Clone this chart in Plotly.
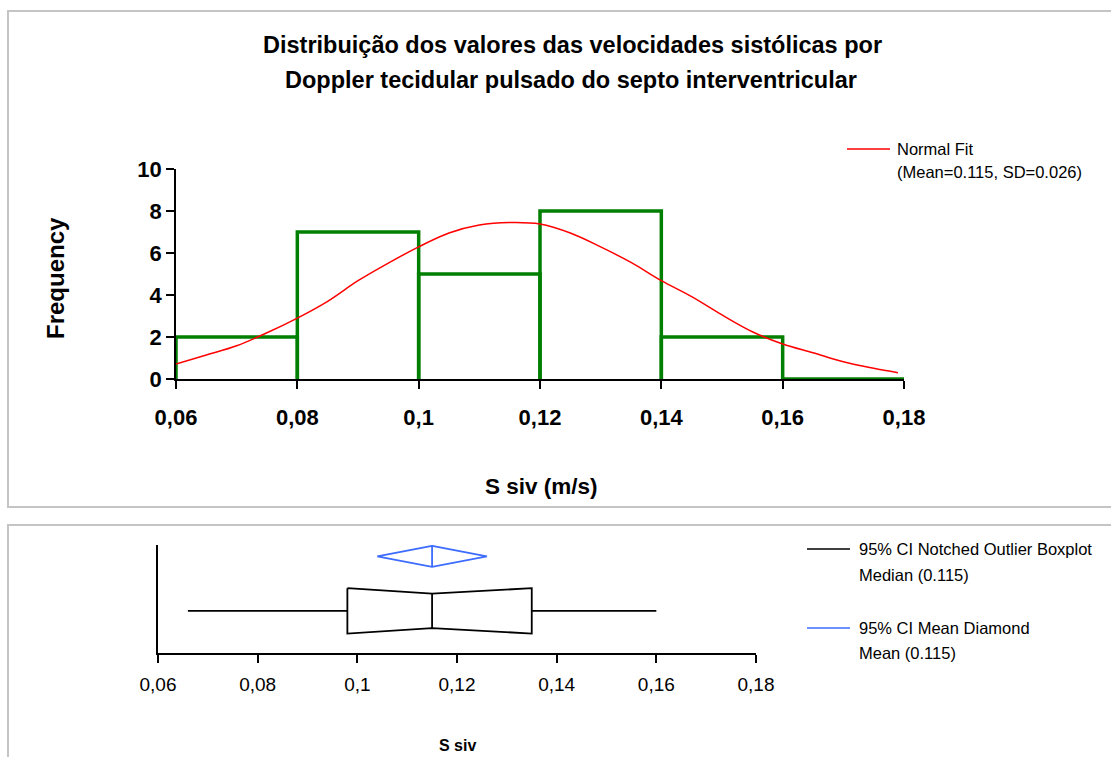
import plotly.graph_objects as go

# Histogram of S siv (m/s)
bin_edges = [0.06, 0.08, 0.10, 0.12, 0.14, 0.16, 0.18]
bin_counts = [2, 7, 5, 8, 2, 0]

# Normal fit curve (Mean=0.115, SD=0.026)
fit_x = [0.060, 0.065, 0.070, 0.075, 0.080, 0.085, 0.090, 0.095, 0.100, 0.105,
         0.110, 0.115, 0.120, 0.125, 0.130, 0.135, 0.140, 0.145, 0.150, 0.155,
         0.160, 0.165, 0.170, 0.175, 0.179]
fit_y = [0.71, 1.14, 1.58, 2.20, 2.90, 3.70, 4.68, 5.52, 6.29, 6.95,
         7.33, 7.45, 7.38, 6.95, 6.29, 5.55, 4.68, 3.92, 3.05, 2.25,
         1.67, 1.25, 0.82, 0.51, 0.30]

# Boxplot summary
whisker_low = 0.066
q1 = 0.098
median = 0.115
q3 = 0.135
whisker_high = 0.160
mean = 0.115
mean_ci = [0.104, 0.126]

x_ticks = [0.06, 0.08, 0.10, 0.12, 0.14, 0.16, 0.18]
x_ticktext = ["0,06", "0,08", "0,1", "0,12", "0,14", "0,16", "0,18"]
y_ticks = [0, 2, 4, 6, 8, 10]

W, H = 1111, 757
FONT = "Liberation Sans, Arial, sans-serif"
GREEN = "#007f00"
BLUE = "#3d6cff"
BORDER = "#c4c4c4"


def px(x):
    return x / W


def py(y):
    return 1 - y / H


fig = go.Figure()

# Histogram outlines
hx, hy = [], []
for i, c in enumerate(bin_counts):
    hx += [bin_edges[i], bin_edges[i], bin_edges[i + 1], bin_edges[i + 1], None]
    hy += [0, c, c, 0, None]
fig.add_trace(go.Scatter(x=hx, y=hy, mode="lines", line=dict(color=GREEN, width=3.5),
                         cliponaxis=False, showlegend=False, hoverinfo="skip"))

# Normal fit
fig.add_trace(go.Scatter(x=fit_x, y=fit_y, mode="lines",
                         line=dict(color="red", width=1.5, shape="spline"),
                         showlegend=False, hoverinfo="skip"))

# Notched box on second axes (box centre at y=0.39)
bc, bh, nh = 0.39, 0.21, 0.16
box_x = [q1, median, q3, q3, median, q1, q1]
box_y = [bc + bh, bc + nh, bc + bh, bc - bh, bc - nh, bc - bh, bc + bh]
fig.add_trace(go.Scatter(x=box_x, y=box_y, mode="lines", line=dict(color="black", width=1.8),
                         xaxis="x2", yaxis="y2", showlegend=False, hoverinfo="skip"))
fig.add_trace(go.Scatter(x=[median, median, None, whisker_low, q1, None, q3, whisker_high],
                         y=[bc - nh, bc + nh, None, bc, bc, None, bc, bc],
                         mode="lines", line=dict(color="black", width=1.8),
                         xaxis="x2", yaxis="y2", showlegend=False, hoverinfo="skip"))

# Mean diamond
dc, dh = 0.895, 0.097
fig.add_trace(go.Scatter(x=[mean_ci[0], mean, mean_ci[1], mean, mean_ci[0], None, mean, mean],
                         y=[dc, dc + dh, dc, dc - dh, dc, None, dc - dh, dc + dh],
                         mode="lines", line=dict(color=BLUE, width=1.8),
                         xaxis="x2", yaxis="y2", showlegend=False, hoverinfo="skip"))

axis_common = dict(showline=True, linecolor="black", linewidth=1.5, ticks="outside",
                   tickcolor="black", tickwidth=1.5, showgrid=False, zeroline=False,
                   automargin=False)

fig.update_layout(
    width=W, height=H,
    margin=dict(l=0, r=0, t=0, b=0, pad=0, autoexpand=False),
    paper_bgcolor="white", plot_bgcolor="rgba(0,0,0,0)",
    showlegend=False,
    font=dict(family=FONT, color="black"),
    xaxis=dict(domain=[px(176), px(904)], range=[0.06, 0.18], tickvals=x_ticks,
               ticktext=x_ticktext, ticklen=8, anchor="y", ticklabelstandoff=10,
               tickfont=dict(size=22, family=FONT, weight="bold"), **axis_common),
    yaxis=dict(domain=[py(379), py(169)], range=[0, 10], tickvals=y_ticks, ticklen=8,
               anchor="x", tickfont=dict(size=22, family=FONT, weight="bold"), **axis_common),
    xaxis2=dict(domain=[px(158), px(756)], range=[0.06, 0.18], tickvals=x_ticks,
                ticktext=x_ticktext, ticklen=8, anchor="y2", ticklabelstandoff=5,
                tickfont=dict(size=19, family=FONT), **axis_common),
    yaxis2=dict(domain=[py(653), py(545)], range=[0, 1], showline=True, linecolor="black",
                linewidth=1.5, showticklabels=False, ticks="", showgrid=False,
                zeroline=False, anchor="x2", automargin=False),
)

shapes = [
    dict(type="rect", xref="paper", yref="paper", x0=px(8), x1=px(1120), y0=py(11), y1=py(507),
         line=dict(color=BORDER, width=2)),
    dict(type="rect", xref="paper", yref="paper", x0=px(8), x1=px(1120), y0=py(525), y1=py(800),
         line=dict(color=BORDER, width=2)),
    dict(type="line", xref="paper", yref="paper", x0=px(847), x1=px(890), y0=py(149), y1=py(149),
         line=dict(color="red", width=1.5)),
    dict(type="line", xref="paper", yref="paper", x0=px(807), x1=px(850), y0=py(549), y1=py(549),
         line=dict(color="black", width=1.5)),
    dict(type="line", xref="paper", yref="paper", x0=px(807), x1=px(850), y0=py(628), y1=py(628),
         line=dict(color=BLUE, width=1.5)),
]
fig.update_layout(shapes=shapes)


def label(text, x, y, size, bold=False, xanchor="center", angle=0):
    fig.add_annotation(text=text, x=px(x), y=py(y), xref="paper", yref="paper",
                       xanchor=xanchor, yanchor="middle", showarrow=False, textangle=angle,
                       font=dict(size=size, family=FONT, weight="bold" if bold else "normal"))


label("Distribuição dos valores das velocidades sistólicas por", 572, 45, 23.5, bold=True)
label("Doppler tecidular pulsado do septo interventricular", 571, 80, 23.5, bold=True)
label("Frequency", 55, 278, 24, bold=True, angle=-90)
label("S siv (m/s)", 541, 486, 22.5, bold=True)
label("S siv", 457, 745, 16, bold=True)
label("Normal Fit", 895, 149, 16.5, xanchor="left")
label("(Mean=0.115, SD=0.026)", 895, 172, 16.5, xanchor="left")
label("95% CI Notched Outlier Boxplot", 857, 549, 16.5, xanchor="left")
label("Median (0.115)", 857, 575, 16.5, xanchor="left")
label("95% CI Mean Diamond", 857, 628, 16.5, xanchor="left")
label("Mean (0.115)", 857, 653, 16.5, xanchor="left")

fig.write_html("out.html")
